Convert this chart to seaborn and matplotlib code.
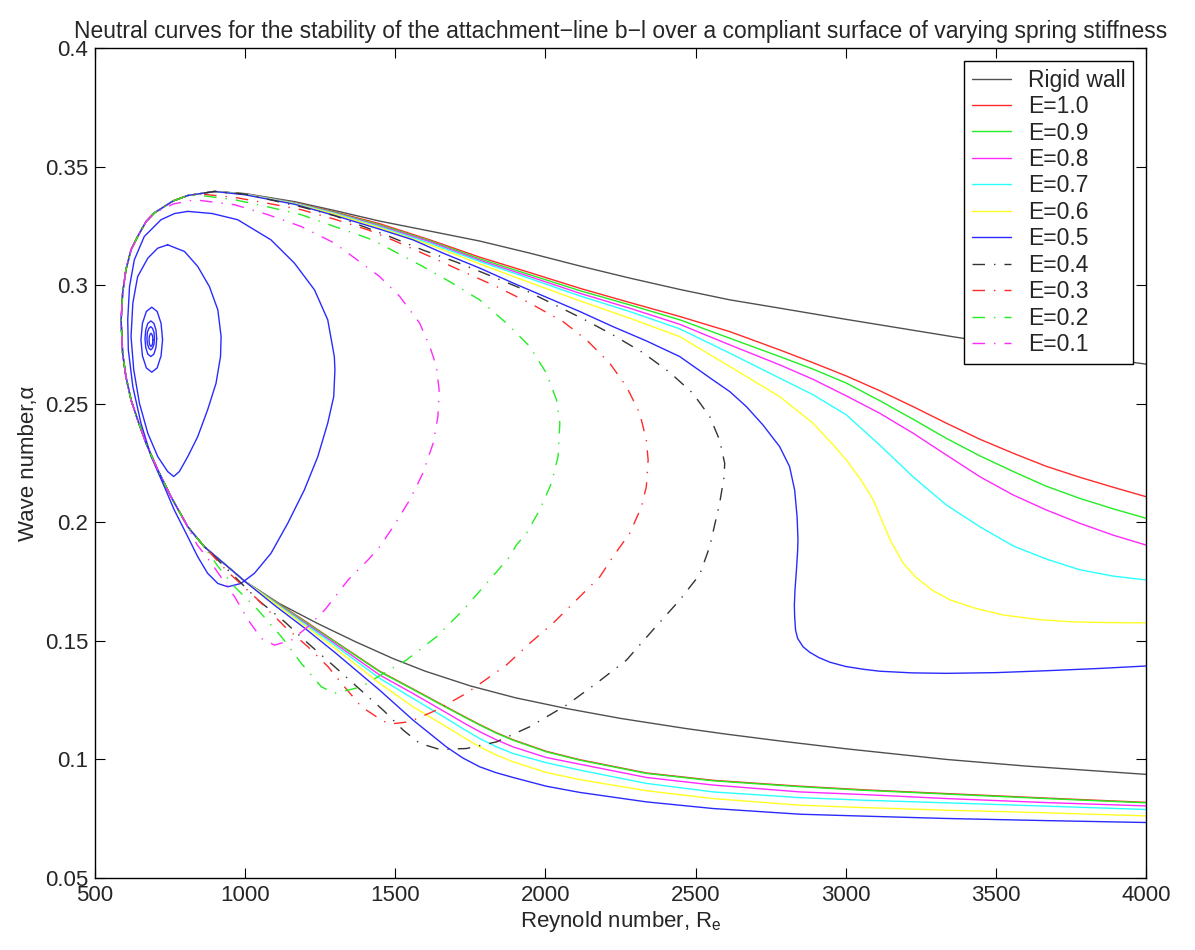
"""
Neutral curves of the attachment-line boundary layer over a compliant wall
"""
import matplotlib
matplotlib.use('Agg')
import matplotlib.pyplot as plt
import pandas as pd
import seaborn as sns

# nose shared by all the curves, from the lower branch round to the upper branch
nose_re = [1000, 942, 864, 809, 753, 709, 670, 642, 620, 603, 592, 587, 592, 603, 620, 642, 670, 698, 760, 809, 898]
nose_alpha = [0.1750, 0.1813, 0.1897, 0.1981, 0.2108, 0.2221, 0.2333, 0.2432, 0.2516, 0.2614, 0.2713, 0.2850,
              0.2966, 0.3065, 0.3149, 0.3205, 0.3268, 0.3305, 0.3355, 0.3378, 0.3395]

# rigid wall
rigid_lower_re = [4000, 3600, 3335, 3000, 2780, 2600, 2464, 2250, 2069, 1900, 1750, 1600, 1495, 1368, 1240, 1113]
rigid_lower_alpha = [0.0937, 0.0972, 0.1000, 0.1045, 0.1078, 0.1107, 0.1131, 0.1173, 0.1215, 0.1260, 0.1310, 0.1372,
                     0.1424, 0.1496, 0.1574, 0.1658]
rigid_upper_re = [1000, 1165, 1300, 1448, 1615, 1781, 1948, 2114, 2280, 2447, 2614, 2780, 3000, 3369, 3700, 4000]
rigid_upper_alpha = [0.3386, 0.3352, 0.3314, 0.3270, 0.3228, 0.3186, 0.3135, 0.3081, 0.3030, 0.2982, 0.2938, 0.2903,
                     0.2856, 0.2780, 0.2718, 0.2667]

# lower branches of the compliant-wall curves (read right to left)
lower_re = [4000, 3668, 3335, 3058, 2847, 2558, 2336, 2114, 2003, 1892, 1836, 1781, 1725, 1670, 1559, 1448, 1300,
            1200, 1100]
e10_lower_alpha = [0.0819, 0.0837, 0.0856, 0.0872, 0.0887, 0.0912, 0.0943, 0.0999, 0.1034, 0.1083, 0.1113, 0.1147,
                   0.1184, 0.1221, 0.1297, 0.1372, 0.1497, 0.1583, 0.1666]
e09_lower_alpha = [0.0817, 0.0835, 0.0854, 0.0870, 0.0885, 0.0910, 0.0941, 0.0997, 0.1032, 0.1081, 0.1111, 0.1145,
                   0.1182, 0.1219, 0.1295, 0.1370, 0.1495, 0.1580, 0.1665]
e08_lower_alpha = [0.0804, 0.0818, 0.0835, 0.0852, 0.0863, 0.0892, 0.0924, 0.0980, 0.1008, 0.1053, 0.1083, 0.1117,
                   0.1156, 0.1197, 0.1278, 0.1356, 0.1488, 0.1575, 0.1662]
e07_lower_alpha = [0.0789, 0.0803, 0.0817, 0.0828, 0.0839, 0.0863, 0.0899, 0.0955, 0.0986, 0.1025, 0.1054, 0.1088,
                   0.1130, 0.1173, 0.1257, 0.1342, 0.1480, 0.1570, 0.1660]
e06_lower_alpha = [0.0762, 0.0775, 0.0786, 0.0797, 0.0807, 0.0835, 0.0868, 0.0915, 0.0945, 0.0990, 0.1019, 0.1053,
                   0.1095, 0.1138, 0.1222, 0.1321, 0.1468, 0.1563, 0.1657]
e05_lower_alpha = [0.0734, 0.0742, 0.0751, 0.0761, 0.0769, 0.0793, 0.0821, 0.0861, 0.0887, 0.0924, 0.0944, 0.0969,
                   0.1006, 0.1053, 0.1166, 0.1292, 0.1450, 0.1552, 0.1648]

# upper branches E=1.0 .. 0.7
upper_re = [1000, 1165, 1300, 1448, 1615, 1781, 1948, 2114, 2280, 2447, 2614, 2780, 2891, 3002, 3113, 3224, 3335,
            3447, 3558, 3668, 3779, 3890, 4000]
e10_upper_alpha = [0.3385, 0.3348, 0.3308, 0.3259, 0.3191, 0.3118, 0.3053, 0.2987, 0.2927, 0.2868, 0.2804, 0.2727,
                   0.2673, 0.2617, 0.2555, 0.2488, 0.2418, 0.2350, 0.2291, 0.2236, 0.2190, 0.2148, 0.2108]
e09_upper_alpha = [0.3385, 0.3347, 0.3306, 0.3254, 0.3187, 0.3111, 0.3044, 0.2977, 0.2917, 0.2854, 0.2776, 0.2699,
                   0.2646, 0.2587, 0.2513, 0.2435, 0.2354, 0.2280, 0.2214, 0.2152, 0.2101, 0.2057, 0.2017]
e08_upper_alpha = [0.3384, 0.3346, 0.3304, 0.3250, 0.3183, 0.3105, 0.3036, 0.2966, 0.2903, 0.2835, 0.2748, 0.2664,
                   0.2603, 0.2533, 0.2460, 0.2376, 0.2284, 0.2192, 0.2115, 0.2052, 0.1996, 0.1946, 0.1904]
e07_upper_alpha = [0.3383, 0.3345, 0.3302, 0.3246, 0.3177, 0.3100, 0.3028, 0.2955, 0.2889, 0.2816, 0.2713, 0.2608,
                   0.2538, 0.2453, 0.2326, 0.2192, 0.2073, 0.1981, 0.1900, 0.1845, 0.1800, 0.1773, 0.1757]

# E=0.6
e06_upper_re = [1000, 1165, 1300, 1448, 1615, 1781, 1948, 2114, 2280, 2447, 2614, 2780, 2891, 2963, 3002, 3050, 3092,
                3113, 3150, 3190, 3232, 3290, 3349, 3430, 3524, 3640, 3758, 3880, 4000]
e06_upper_alpha = [0.3382, 0.3343, 0.3299, 0.3242, 0.3170, 0.3090, 0.3011, 0.2934, 0.2861, 0.2783, 0.2657, 0.2530,
                   0.2418, 0.2320, 0.2263, 0.2180, 0.2094, 0.2030, 0.1920, 0.1830, 0.1770, 0.1712, 0.1672, 0.1638,
                   0.1609, 0.1590, 0.1580, 0.1577, 0.1576]

# E=0.5, outer curve
e05_upper_re = [1000, 1165, 1300, 1448, 1559, 1659, 1781, 1892, 2003, 2114, 2225, 2336, 2447, 2558, 2614, 2669, 2724,
                2780, 2813, 2830, 2838, 2841, 2840, 2836, 2831, 2829, 2830, 2833, 2840, 2858, 2880, 2910, 2947, 3000,
                3060, 3113, 3220, 3335, 3500, 3668, 3850, 4000]
e05_upper_alpha = [0.3381, 0.3341, 0.3293, 0.3236, 0.3191, 0.3135, 0.3072, 0.3009, 0.2949, 0.2889, 0.2825, 0.2765,
                   0.2699, 0.2600, 0.2551, 0.2488, 0.2411, 0.2319, 0.2235, 0.2136, 0.2024, 0.1930, 0.1883, 0.1800,
                   0.1714, 0.1650, 0.1600, 0.1545, 0.1510, 0.1475, 0.1452, 0.1430, 0.1410, 0.1392, 0.1380, 0.1372,
                   0.1365, 0.1363, 0.1366, 0.1374, 0.1384, 0.1394]

# E=0.5, inner loops
e05_loop_re = [809, 890, 975, 1086, 1164, 1231, 1275, 1297, 1299, 1295, 1275, 1242, 1197, 1142, 1086, 1031, 986, 942,
               909, 875, 842, 809, 764, 731, 687, 653, 626, 611, 609, 615, 631, 664, 720, 765]
e05_loop_alpha = [0.3311, 0.3302, 0.3276, 0.3191, 0.3093, 0.2980, 0.2854, 0.2699, 0.2643, 0.2530, 0.2418, 0.2277,
                  0.2136, 0.1996, 0.1869, 0.1785, 0.1742, 0.1728, 0.1742, 0.1785, 0.1855, 0.1939, 0.2052, 0.2150,
                  0.2277, 0.2418, 0.2572, 0.2727, 0.2854, 0.2994, 0.3107, 0.3205, 0.3276, 0.3302]
e05_egg_re = [742, 798, 842, 881, 909, 920, 918, 903, 875, 842, 809, 781, 762, 742, 709, 676, 648, 629, 620, 626, 642,
              676, 709]
e05_egg_alpha = [0.3170, 0.3142, 0.3079, 0.2994, 0.2896, 0.2783, 0.2699, 0.2586, 0.2474, 0.2361, 0.2277, 0.2214,
                 0.2193, 0.2214, 0.2277, 0.2375, 0.2502, 0.2643, 0.2783, 0.2924, 0.3036, 0.3114, 0.3156]
e05_ring1_re = [725, 720, 707, 689, 671, 658, 653, 658, 671, 689, 707, 720]
e05_ring1_alpha = [0.2770, 0.2839, 0.2889, 0.2907, 0.2889, 0.2839, 0.2770, 0.2702, 0.2651, 0.2633, 0.2651, 0.2702]
e05_ring2_re = [705.5, 703, 696, 686, 676, 669, 666.5, 669, 676, 686, 696, 703]
e05_ring2_alpha = [0.2774, 0.2812, 0.2839, 0.2849, 0.2839, 0.2812, 0.2774, 0.2737, 0.2709, 0.2699, 0.2709, 0.2737]
e05_ring3_re = [698, 696.5, 691.5, 685.5, 679.5, 674.5, 673, 674.5, 679.5, 685.5, 691.5, 696.5]
e05_ring3_alpha = [0.2776, 0.2801, 0.2818, 0.2825, 0.2818, 0.2801, 0.2776, 0.2752, 0.2734, 0.2727, 0.2734, 0.2752]
e05_ring4_re = [693, 692, 689.5, 686.5, 683.5, 681, 680, 681, 683.5, 686.5, 689.5, 692]
e05_ring4_alpha = [0.2769, 0.2783, 0.2793, 0.2797, 0.2793, 0.2783, 0.2769, 0.2755, 0.2745, 0.2741, 0.2745, 0.2755]

# closed loops E=0.4 .. 0.1 (upper branch, turn, lower branch back to the nose)
e04_re = [1000, 1187, 1300, 1409, 1481, 1592, 1704, 1814, 1925, 2025, 2125, 2225, 2325, 2414, 2491, 2547, 2580, 2597,
          2595, 2580, 2547, 2514, 2447, 2358, 2270, 2170, 2070, 1948, 1837, 1737, 1648, 1581, 1526, 1462, 1298, 1209,
          1132, 1043, 954]
e04_alpha = [0.3384, 0.3330, 0.3292, 0.3240, 0.3205, 0.3148, 0.3097, 0.3041, 0.2983, 0.2921, 0.2858, 0.2790, 0.2715,
             0.2632, 0.2544, 0.2446, 0.2347, 0.2249, 0.2192, 0.2080, 0.1897, 0.1780, 0.1672, 0.1546, 0.1419, 0.1321,
             0.1229, 0.1138, 0.1074, 0.1046, 0.1042, 0.1068, 0.1124, 0.1205, 0.1391, 0.1490, 0.1580, 0.1672, 0.1785]
e03_re = [854, 965, 1076, 1187, 1298, 1409, 1492, 1615, 1726, 1837, 1948, 2059, 2137, 2214, 2270, 2314, 2336, 2342,
          2336, 2320, 2281, 2225, 2181, 2103, 2025, 1948, 1870, 1737, 1637, 1548, 1481, 1454, 1387, 1321, 1276, 1209,
          1132, 1032, 943]
e03_alpha = [0.3384, 0.3370, 0.3345, 0.3318, 0.3278, 0.3233, 0.3190, 0.3121, 0.3057, 0.2994, 0.2924, 0.2846, 0.2769,
             0.2671, 0.2572, 0.2460, 0.2347, 0.2263, 0.2150, 0.2066, 0.1954, 0.1855, 0.1770, 0.1672, 0.1574, 0.1490,
             0.1398, 0.1279, 0.1208, 0.1159, 0.1149, 0.1166, 0.1222, 0.1321, 0.1391, 0.1475, 0.1560, 0.1686, 0.1790]
e02_re = [854, 965, 1076, 1187, 1298, 1409, 1448, 1581, 1681, 1781, 1870, 1948, 2003, 2037, 2048, 2042, 2020, 1981,
          1937, 1903, 1881, 1814, 1726, 1637, 1537, 1470, 1387, 1298, 1254, 1187, 1121, 1043, 965, 910]
e02_alpha = [0.3378, 0.3360, 0.3330, 0.3297, 0.3247, 0.3198, 0.3175, 0.3086, 0.3015, 0.2938, 0.2840, 0.2741, 0.2629,
             0.2516, 0.2418, 0.2277, 0.2165, 0.2052, 0.1954, 0.1904, 0.1855, 0.1757, 0.1630, 0.1517, 0.1419, 0.1370,
             0.1306, 0.1279, 0.1306, 0.1405, 0.1517, 0.1630, 0.1728, 0.1813]
e01_re = [760, 832, 965, 1076, 1187, 1298, 1448, 1515, 1581, 1615, 1637, 1646, 1642, 1626, 1592, 1548, 1493, 1448,
          1409, 1343, 1265, 1209, 1154, 1098, 1054, 1010, 965, 926, 888, 840]
e01_alpha = [0.3342, 0.3360, 0.3339, 0.3297, 0.3247, 0.3177, 0.3036, 0.2952, 0.2840, 0.2741, 0.2657, 0.2558, 0.2446,
             0.2333, 0.2207, 0.2094, 0.1981, 0.1897, 0.1841, 0.1757, 0.1630, 0.1560, 0.1503, 0.1482, 0.1510, 0.1588,
             0.1686, 0.1757, 0.1827, 0.1905]

names = ['Rigid wall', 'E=1.0', 'E=0.9', 'E=0.8', 'E=0.7', 'E=0.6', 'E=0.5', 'E=0.4', 'E=0.3', 'E=0.2', 'E=0.1']
colors = ['#505050', '#ff2a2a', '#22ee22', '#ff2aff', '#2affff', '#ffff22', '#2a2aff', '#333333', '#ff2a2a',
          '#22ee22', '#ff2aff']
x_ticks = [500, 1000, 1500, 2000, 2500, 3000, 3500, 4000]
y_ticks = [0.05, 0.1, 0.15, 0.2, 0.25, 0.3, 0.35, 0.4]
y_tick_labels = ['0.05', '0.1', '0.15', '0.2', '0.25', '0.3', '0.35', '0.4']


def closed(re, alpha):
    return re + re[:1], alpha + alpha[:1]


def main():
    pieces = [
        ('Rigid wall', 'main', rigid_lower_re + nose_re + rigid_upper_re, rigid_lower_alpha + nose_alpha + rigid_upper_alpha),
        ('E=1.0', 'main', lower_re + nose_re + upper_re, e10_lower_alpha + nose_alpha + e10_upper_alpha),
        ('E=0.9', 'main', lower_re + nose_re + upper_re, e09_lower_alpha + nose_alpha + e09_upper_alpha),
        ('E=0.8', 'main', lower_re + nose_re + upper_re, e08_lower_alpha + nose_alpha + e08_upper_alpha),
        ('E=0.7', 'main', lower_re + nose_re + upper_re, e07_lower_alpha + nose_alpha + e07_upper_alpha),
        ('E=0.6', 'main', lower_re + nose_re + e06_upper_re, e06_lower_alpha + nose_alpha + e06_upper_alpha),
        ('E=0.5', 'main', lower_re + nose_re + e05_upper_re, e05_lower_alpha + nose_alpha + e05_upper_alpha),
        ('E=0.5', 'loop', *closed(e05_loop_re, e05_loop_alpha)),
        ('E=0.5', 'egg', *closed(e05_egg_re, e05_egg_alpha)),
        ('E=0.5', 'ring1', *closed(e05_ring1_re, e05_ring1_alpha)),
        ('E=0.5', 'ring2', *closed(e05_ring2_re, e05_ring2_alpha)),
        ('E=0.5', 'ring3', *closed(e05_ring3_re, e05_ring3_alpha)),
        ('E=0.5', 'ring4', *closed(e05_ring4_re, e05_ring4_alpha)),
        ('E=0.4', 'main', *closed(nose_re[2:] + e04_re, nose_alpha[2:] + e04_alpha)),
        ('E=0.3', 'main', *closed(nose_re[2:20] + e03_re, nose_alpha[2:20] + e03_alpha)),
        ('E=0.2', 'main', *closed(nose_re[2:20] + e02_re, nose_alpha[2:20] + e02_alpha)),
        ('E=0.1', 'main', *closed(nose_re[3:18] + e01_re, nose_alpha[3:18] + e01_alpha)),
    ]
    rows = []
    for curve, piece, re, alpha in pieces:
        for r, a in zip(re, alpha):
            rows.append({'curve': curve, 'piece': piece, 'Re': r, 'alpha': a})
    df = pd.DataFrame(rows)

    sns.set_theme(style='ticks')
    plt.rcParams['font.family'] = ['Liberation Sans', 'DejaVu Sans']
    plt.rcParams['mathtext.default'] = 'regular'

    dash_map = {n: '' for n in names[:7]}
    dash_map.update({n: (9, 6.5, 1, 6.5) for n in names[7:]})

    fig = plt.figure(figsize=(11.95, 9.5), dpi=100)
    ax = fig.add_axes([95 / 1195, 1 - 878 / 950, 1051 / 1195, 830 / 950])
    sns.lineplot(data=df, x='Re', y='alpha', hue='curve', style='curve', units='piece', estimator=None, sort=False,
                 hue_order=names, style_order=names, palette=dict(zip(names, colors)), dashes=dash_map,
                 linewidth=1.0, ax=ax)

    old = ax.get_legend()
    handles = old.legend_handles
    labels = [t.get_text() for t in old.get_texts()]
    old.remove()
    leg = ax.legend(handles, labels, loc='upper right', fontsize=16.5, frameon=True, fancybox=False,
                    edgecolor='black', framealpha=1, handlelength=1.7, handletextpad=0.75, labelspacing=0.15,
                    borderpad=0.35, borderaxespad=0.55)
    leg.get_frame().set_linewidth(1.0)

    ax.set_xlim(500, 4000)
    ax.set_ylim(0.05, 0.4)
    ax.set_xticks(x_ticks)
    ax.set_xticklabels([str(t) for t in x_ticks])
    ax.set_yticks(y_ticks)
    ax.set_yticklabels(y_tick_labels)
    ax.tick_params(direction='in', length=7, width=0.8, top=True, right=True, labelsize=16, color='black', pad=5)
    for s in ax.spines.values():
        s.set_color('black')
        s.set_linewidth(1.0)

    ax.set_title('Neutral curves for the stability of the attachment\u2212line b\u2212l over a compliant surface '
                 'of varying spring stiffness', fontsize=16.5, pad=7)
    ax.set_xlabel('Reynold number, R$_e$', fontsize=16, labelpad=2)
    ax.set_ylabel('Wave number,\u03b1', fontsize=16)

    fig.savefig('out.png', dpi=100)


if __name__ == '__main__':
    main()
